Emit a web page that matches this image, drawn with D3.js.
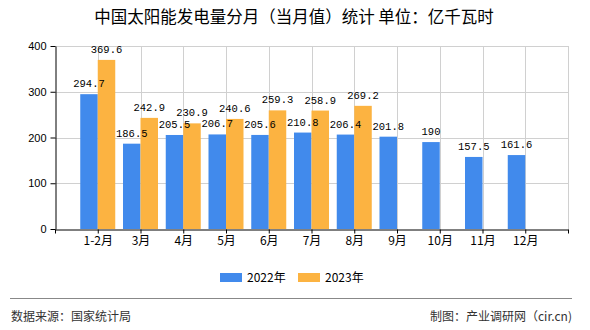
<!DOCTYPE html>
<html><head><meta charset="utf-8">
<script src="https://cdn.jsdelivr.net/npm/d3@7"></script>
<style>body{margin:0;background:#fff} svg{display:block}</style>
</head><body><svg id="c" width="590" height="330"></svg>
<script>
const categories = ["1-2月","3月","4月","5月","6月","7月","8月","9月","10月","11月","12月"];
const values2022 = [294.7,186.5,205.5,206.7,205.6,210.8,206.4,201.8,190,157.5,161.6];
const values2023 = [369.6,242.9,230.9,240.6,259.3,258.9,269.2,null,null,null,null];
const seriesNames = ["2022年","2023年"];
const seriesColors = ["#418AEC","#FCB341"];
const yTicks = [0,100,200,300,400];
const titleText = "中国太阳能发电量分月（当月值）统计 单位：亿千瓦时";
const sourceText = "数据来源：国家统计局";
const creditText = "制图：产业调研网（cir.cn)";

const svg = d3.select("#c");
const CJK = "'Noto Sans CJK SC','Noto Sans',sans-serif";
const x = d3.scaleLinear().domain([0, categories.length + 1]).range([55, 568]);
const y = d3.scaleLinear().domain([0, 400]).range([229, 46]);
const bw = 17.5;

// title
svg.append("text").attr("x", 294).attr("y", 23).attr("text-anchor", "middle")
  .attr("font-family", CJK).attr("font-size", 16.5).attr("font-weight", 400).attr("fill", "#000").text(titleText);

// grid
const grid = svg.append("g").attr("stroke", "#d0d0d0").attr("stroke-width", 1);
yTicks.filter(d => d > 0).forEach(t => {
  grid.append("line").attr("x1", x(0)).attr("x2", x(categories.length + 1))
    .attr("y1", Math.round(y(t)) + 0.5).attr("y2", Math.round(y(t)) + 0.5);
});
d3.range(1, categories.length + 2).forEach(i => {
  grid.append("line").attr("x1", Math.round(x(i)) + 0.5).attr("x2", Math.round(x(i)) + 0.5)
    .attr("y1", y(400)).attr("y2", y(0));
});

// bars
const series = [values2022, values2023];
series.forEach((vals, s) => {
  const g = svg.append("g");
  vals.forEach((v, i) => {
    if (v == null) return;
    const cx = x(i + 1);
    const x0 = s === 0 ? cx - bw : cx;
    g.append("rect").attr("x", x0).attr("y", y(v)).attr("width", bw)
      .attr("height", y(0) - y(v)).attr("fill", seriesColors[s]);
  });
});
series.forEach((vals, s) => {
  vals.forEach((v, i) => {
    if (v == null) return;
    const cx = x(i + 1) + (s === 0 ? -bw / 2 : bw / 2);
    svg.append("text").attr("x", cx).attr("y", y(v) - 7).attr("text-anchor", "middle")
      .attr("font-family", "'Liberation Mono',monospace").attr("font-size", 10.5)
      .attr("fill", "#000").text(String(v));
  });
});

// axes
const yAxis = d3.axisLeft(y).tickValues(yTicks).tickSize(5).tickSizeOuter(0).tickPadding(4);
const gy = svg.append("g").attr("transform", "translate(" + (Math.round(x(0)) + 0.5) + ",0)").call(yAxis);
gy.selectAll("text").attr("font-family", "'Liberation Sans',sans-serif").attr("font-size", 11).attr("fill", "#000");
gy.selectAll("line,path").attr("stroke", "#000");

const xAxis = d3.axisBottom(x).tickValues(d3.range(0, categories.length + 2))
  .tickFormat(d => categories[d - 1] || "").tickSize(4).tickSizeOuter(0).tickPadding(3);
const gx = svg.append("g").attr("transform", "translate(0," + (Math.round(y(0)) + 0.5) + ")").call(xAxis);
gx.selectAll("text").attr("font-family", CJK).attr("font-size", 12).attr("fill", "#000");
gx.selectAll("line,path").attr("stroke", "#000");

// legend
const legX = [220, 298];
seriesNames.forEach((n, s) => {
  svg.append("rect").attr("x", legX[s]).attr("y", 273).attr("width", 22).attr("height", 9).attr("fill", seriesColors[s]);
  svg.append("text").attr("x", legX[s] + 27).attr("y", 282).attr("font-family", CJK)
    .attr("font-size", 12).attr("fill", "#000").text(n);
});

// footer
svg.append("line").attr("x1", 10).attr("x2", 572).attr("y1", 298.5).attr("y2", 298.5)
  .attr("stroke", "#888").attr("stroke-width", 1.2);
svg.append("text").attr("x", 11).attr("y", 321).attr("font-family", CJK).attr("font-size", 12)
  .attr("fill", "#333").text(sourceText);
svg.append("text").attr("x", 572).attr("y", 321).attr("text-anchor", "end").attr("font-family", CJK)
  .attr("font-size", 12).attr("fill", "#333").text(creditText);
</script></body></html>
